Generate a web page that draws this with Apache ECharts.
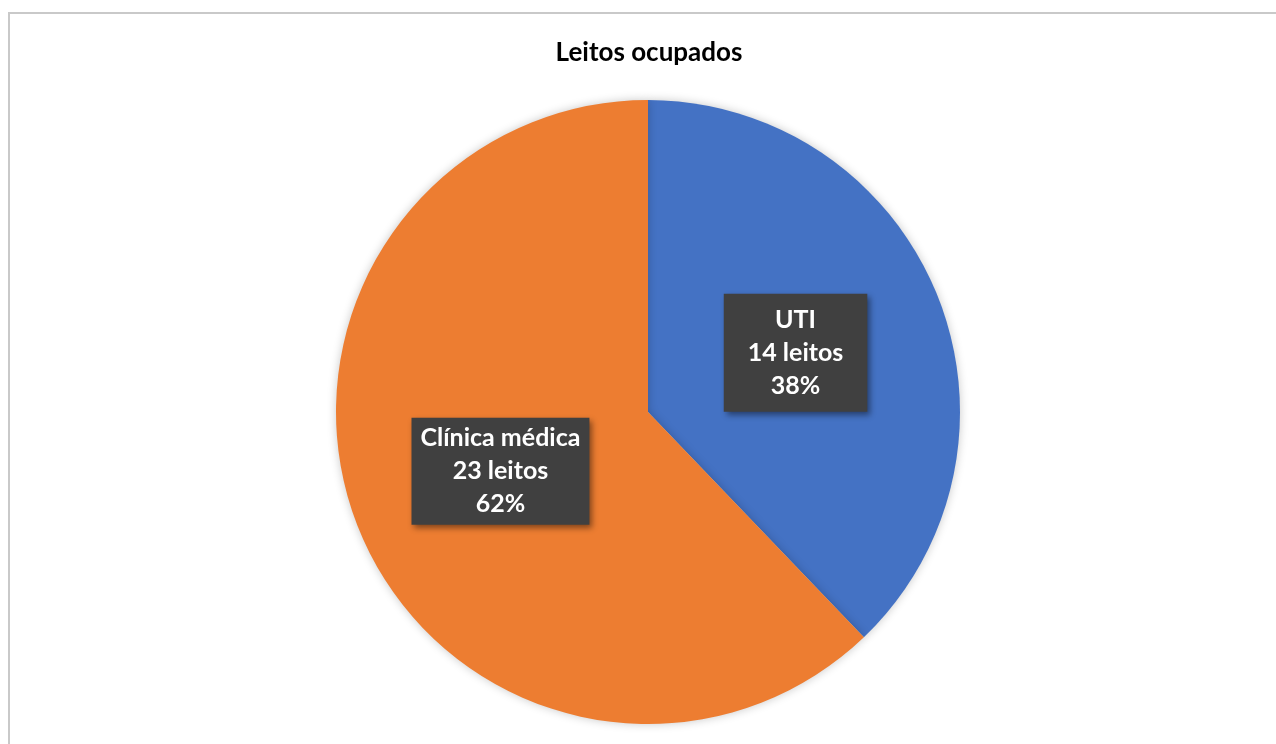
<!DOCTYPE html>
<html><head><meta charset="utf-8">
<script src="https://cdn.jsdelivr.net/npm/echarts@6/dist/echarts.min.js"></script>
<style>html,body{margin:0;padding:0;background:#fff}#c{width:1276px;height:744px}</style>
</head><body><div id="c"></div>
<script>
const title = 'Leitos ocupados';
const categories = ['UTI', 'Clínica médica'];
const values = [14, 23];
const unit = 'leitos';
const colors = ['#4472C4', '#ED7D31'];
const paddings = [[10, 24, 9, 24], [5, 9, 3, 9]];

const chart = echarts.init(document.getElementById('c'));
chart.setOption({
  animation: false,
  backgroundColor: '#fff',
  title: {
    text: title, left: 644, textAlign: 'center', top: 35,
    textStyle: {fontFamily: 'Lato', fontWeight: 'bold', fontSize: 26, color: '#000'}
  },
  graphic: [{
    type: 'rect', shape: {x: 9, y: 13, width: 1300, height: 800},
    style: {fill: 'none', stroke: '#c9c9c9', lineWidth: 2}, silent: true
  }],
  series: [{
    type: 'pie',
    center: [648, 412],
    radius: [0, 312],
    startAngle: 90,
    clockwise: true,
    itemStyle: {shadowBlur: 10, shadowColor: 'rgba(0,0,0,0.22)'},
    label: {
      show: true, position: 'inside',
      formatter: p => p.name + '\n' + p.value + ' ' + unit + '\n' + Math.round(p.percent) + '%',
      fontFamily: 'Lato', fontWeight: 'bold', fontSize: 25, lineHeight: 33,
      color: '#fff', backgroundColor: '#404040',
      shadowBlur: 6, shadowOffsetX: 3, shadowOffsetY: 3, shadowColor: 'rgba(0,0,0,0.45)',
      align: 'center'
    },
    labelLine: {show: false},
    data: categories.map((c, i) => ({
      name: c, value: values[i],
      itemStyle: {color: colors[i]},
      label: {padding: paddings[i]}
    }))
  }]
});
</script></body></html>
